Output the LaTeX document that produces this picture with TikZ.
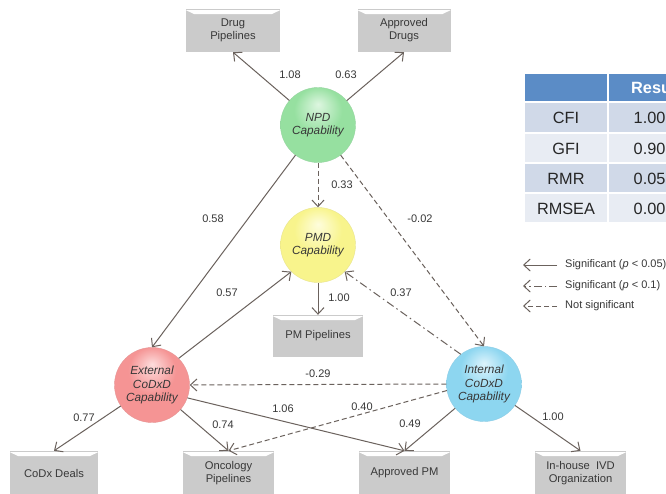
\documentclass[tikz,border=0pt]{standalone}
\usepackage{fontspec}
\setmainfont{Liberation Sans}
\usetikzlibrary{arrows.meta}
\definecolor{edgec}{HTML}{6B625D}
\definecolor{txt}{HTML}{383838}
\definecolor{boxgray}{HTML}{CBCBCB}
\definecolor{hdr}{HTML}{5B8CC6}
\definecolor{rowa}{HTML}{D0D9E8}
\definecolor{rowb}{HTML}{E8ECF3}
\definecolor{npdhi}{HTML}{DDF6E0}\definecolor{npdc}{HTML}{96E0A0}\definecolor{npddk}{HTML}{7CCB88}
\definecolor{pmdhi}{HTML}{FEFDDC}\definecolor{pmdc}{HTML}{F8F48C}\definecolor{pmddk}{HTML}{E2DD72}
\definecolor{exthi}{HTML}{FDDCDC}\definecolor{extc}{HTML}{F59494}\definecolor{extdk}{HTML}{E07A7A}
\definecolor{inthi}{HTML}{DCF3FC}\definecolor{intc}{HTML}{8DD6F0}\definecolor{intdk}{HTML}{70C0E0}
\pgfdeclareradialshading{shnpd}{\pgfpoint{0bp}{14bp}}{color(0bp)=(npdhi); color(16bp)=(npdc); color(30bp)=(npdc); color(50bp)=(npddk)}
\pgfdeclareradialshading{shpmd}{\pgfpoint{0bp}{14bp}}{color(0bp)=(pmdhi); color(16bp)=(pmdc); color(30bp)=(pmdc); color(50bp)=(pmddk)}
\pgfdeclareradialshading{shext}{\pgfpoint{0bp}{14bp}}{color(0bp)=(exthi); color(16bp)=(extc); color(30bp)=(extc); color(50bp)=(extdk)}
\pgfdeclareradialshading{shint}{\pgfpoint{0bp}{14bp}}{color(0bp)=(inthi); color(16bp)=(intc); color(30bp)=(intc); color(50bp)=(intdk)}
\tikzset{
  box/.style={rectangle, fill=boxgray, minimum width=91pt, minimum height=43pt, inner sep=2pt,
    align=center, text=txt, font=\fontsize{11.2}{13}\selectfont,
    path picture={\fill[white] ([yshift=-1.2pt]path picture bounding box.north west) -- ([yshift=-1.2pt]path picture bounding box.north east)
      -- ([xshift=-8pt,yshift=-5pt]path picture bounding box.north east)
      -- ([xshift=8pt,yshift=-5pt]path picture bounding box.north west) -- cycle;}},
  ball/.style={circle, minimum size=75pt, inner sep=0pt, align=center, text=txt,
    font=\fontsize{11.8}{13.5}\selectfont\itshape},
  lab/.style={text=txt, font=\fontsize{11}{12}\selectfont, inner sep=1pt},
  conn/.style={draw=edgec, line width=1pt, -{Straight Barb[length=6.5pt,width=12pt]}},
  ns/.style={conn, dash pattern=on 5pt off 3pt},
  dd/.style={conn, dash pattern=on 8pt off 3.5pt on 1.5pt off 3.5pt},
  cell/.style={draw=white, line width=1.5pt},
  tt/.style={text=black!85, font=\fontsize{16.3}{18}\selectfont, inner sep=0pt},
  leg/.style={text=txt, font=\fontsize{11}{12}\selectfont, anchor=west, inner sep=0pt}
}
\begin{document}
\begin{tikzpicture}[x=1pt,y=-1pt]
\useasboundingbox (0,0) rectangle (666,493);
\clip (0,0) rectangle (666,493);
\fill[white] (0,0) rectangle (666,493);
% boxes
\node[box, minimum width=94pt] (dp) at (233,30.5) {Drug\\Pipelines};
\node[box, minimum width=93pt] (ad) at (404,30.5) {Approved\\Drugs};
\node[box, minimum width=90pt, minimum height=42pt] (pmp) at (318,336) {PM Pipelines};
\node[box, minimum width=88pt, minimum height=44pt] (cdx) at (54,473) {CoDx Deals};
\node[box, minimum height=44pt] (onc) at (228.5,473) {Oncology\\Pipelines};
\node[box, minimum height=44pt] (apm) at (404.5,473) {Approved PM};
\node[box, minimum height=44pt] (ivd) at (580.5,473) {In-house\ \ IVD\\Organization};
% balls
\node[ball, shading=shnpd, draw=npddk!80!white, line width=0.4pt] (npd) at (318,125) {NPD\\Capability};
\node[ball, shading=shpmd, draw=pmddk!80!white, line width=0.4pt] (pmd) at (318,245) {PMD\\Capability};
\node[ball, shading=shext, draw=extdk!80!white, line width=0.4pt] (ext) at (152,385) {External\\CoDxD\\Capability};
\node[ball, shading=shint, draw=intdk!80!white, line width=0.4pt] (int) at (484,384) {Internal\\CoDxD\\Capability};
% connectors
\draw[conn] (npd) -- (dp.south);
\draw[conn] (npd) -- (ad.south);
\draw[ns] (npd) -- (pmd);
\draw[ns] (npd) -- (int.north);
\draw[conn] (npd) -- (ext.north);
\draw[conn] (ext.45) -- (pmd.225);
\draw[dd] (int.128) -- (pmd.315);
\draw[conn] (pmd) -- (pmp.north);
\draw[ns] (int.west) -- (ext.east);
\draw[conn] (ext) -- (cdx.north);
\draw[conn] (ext) -- (onc.north);
\draw[conn] (ext.340) -- (apm.north);
\draw[ns] (int.190) -- (onc.north);
\draw[conn] (int) -- (apm.north);
\draw[conn] (int) -- (ivd.north);
% labels
\node[lab] (l1) at (290,75) {1.08};
\node[lab] (l2) at (346,75) {0.63};
\node[lab] (l3) at (342,185) {0.33};
\node[lab] (l4) at (420,219) {-0.02};
\node[lab] (l5) at (213,219) {0.58};
\node[lab] (l6) at (227,293) {0.57};
\node[lab] (l7) at (401,293) {0.37};
\node[lab] (l8) at (339,298) {1.00};
\node[lab] (l9) at (318,374) {-0.29};
\node[lab] (l10) at (84,418) {0.77};
\node[lab] (l11) at (223,425) {0.74};
\node[lab] (l12) at (283,409) {1.06};
\node[lab] (l13) at (362,407) {0.40};
\node[lab] (l14) at (410,424) {0.49};
\node[lab] (l15) at (553,417) {1.00};
% table
\fill[hdr] (524,73) rectangle (720,102);
\draw[cell] (524,73) rectangle (608,102);
\draw[cell] (608,73) rectangle (720,102);
\fill[rowa] (524,102) rectangle (720,133);
\fill[rowb] (524,133) rectangle (720,163);
\fill[rowa] (524,163) rectangle (720,193);
\fill[rowb] (524,193) rectangle (720,223);
\foreach \ya/\yb in {102/133,133/163,163/193,193/223}{
  \draw[cell] (524,\ya) rectangle (608,\yb);
  \draw[cell] (608,\ya) rectangle (720,\yb);
}
\node[tt, text=white, font=\fontsize{16.3}{18}\selectfont\bfseries, anchor=west] (th) at (631,88) {Results};
\node[tt] (r1) at (566,118) {CFI};
\node[tt] (r2) at (566,148.5) {GFI};
\node[tt] (r3) at (566,178.5) {RMR};
\node[tt] (r4) at (566,208.5) {RMSEA};
\node[tt, anchor=west] (v1) at (633.5,118) {1.00};
\node[tt, anchor=west] (v2) at (633.5,148.5) {0.90};
\node[tt, anchor=west] (v3) at (633.5,178.5) {0.05};
\node[tt, anchor=west] (v4) at (633.5,208.5) {0.00};
% legend
\coordinate (g1a) at (557,265); \coordinate (g1b) at (523,265);
\coordinate (g2a) at (557,286); \coordinate (g2b) at (523,286);
\coordinate (g3a) at (557,306); \coordinate (g3b) at (523,306);
\draw[conn] (g1a) -- (g1b);
\draw[dd, dash pattern=on 8pt off 3pt on 1.5pt off 3pt] (g2a) -- (g2b);
\draw[ns] (g3a) -- (g3b);
\node[leg] (t1) at (565,265) {Significant (\textit{p} < 0.05)};
\node[leg] (t2) at (565,286) {Significant (\textit{p} < 0.1)};
\node[leg] (t3) at (565,306) {Not significant};
\end{tikzpicture}
\end{document}
